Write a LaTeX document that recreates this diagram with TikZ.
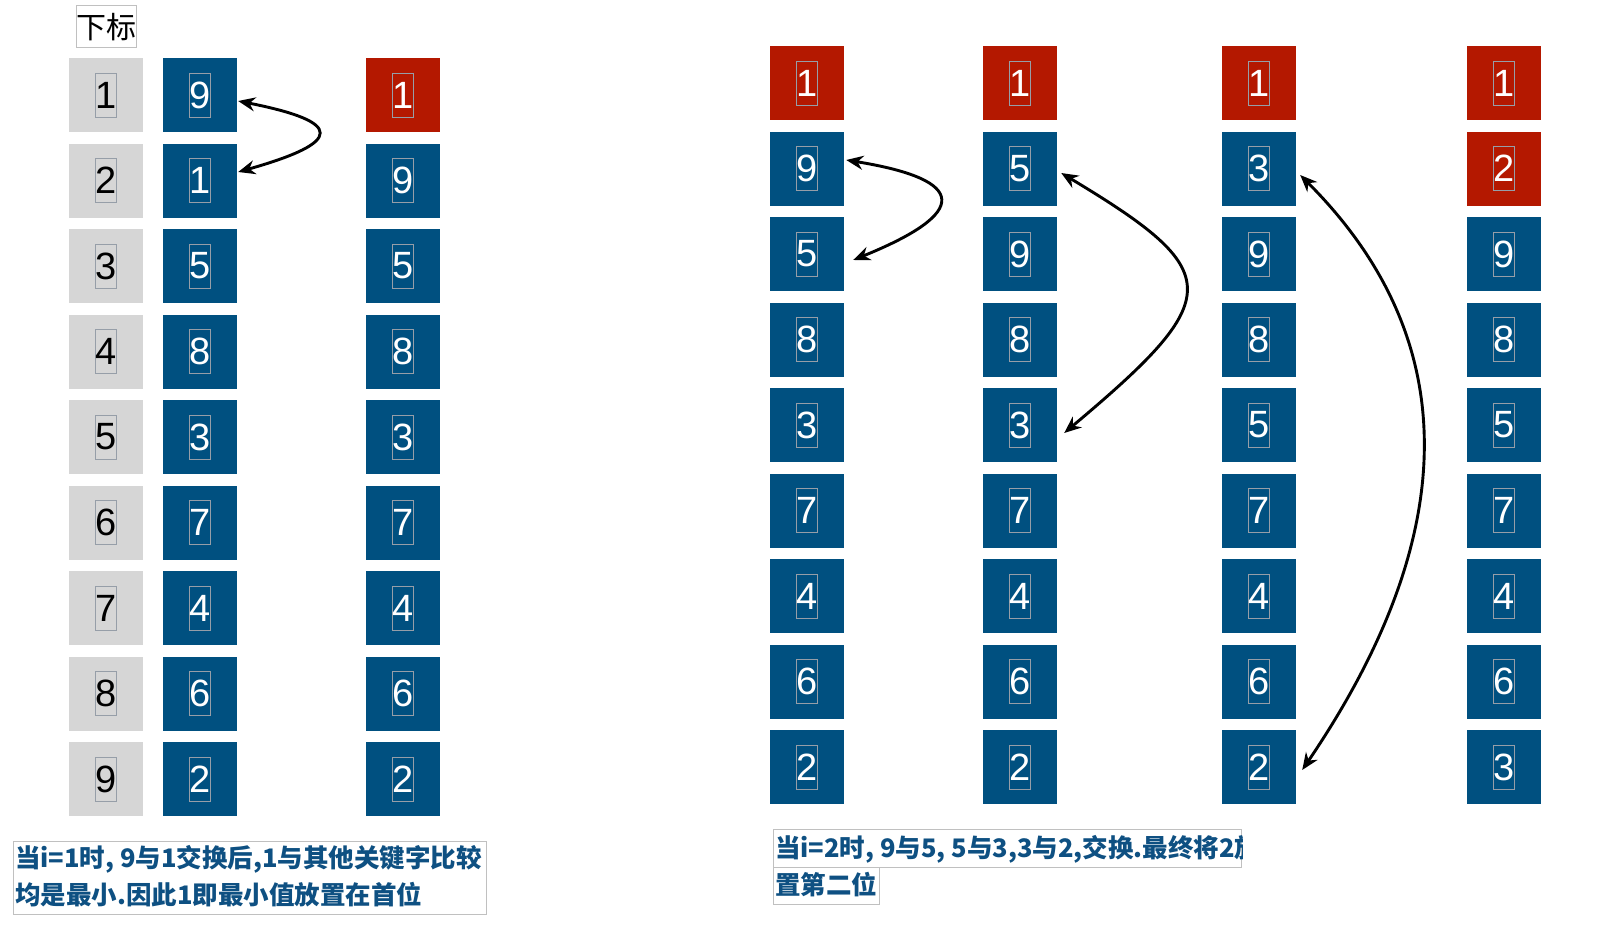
\documentclass[tikz,border=0pt]{standalone}
\usepackage{fontspec}
\setmainfont{Liberation Sans}
\newfontfamily\cjk{Noto Sans CJK SC}
\usetikzlibrary{arrows.meta}
\definecolor{cellB}{RGB}{0,80,128}
\definecolor{cellR}{RGB}{180,24,0}
\definecolor{cellG}{RGB}{214,214,214}
\definecolor{frameG}{RGB}{192,192,192}
\definecolor{innerF}{RGB}{150,158,168}
\definecolor{txtB}{RGB}{14,80,130}
\begin{document}
\begin{tikzpicture}[x=1pt,y=-1pt,
 cell/.style={minimum width=74pt,minimum height=74pt,inner sep=0pt,
   font=\fontsize{38}{38}\selectfont,
   path picture={\draw[innerF,line width=0.8pt] ([shift={(-10.5,-22)}]path picture bounding box.center) rectangle ([shift={(10.5,22)}]path picture bounding box.center);}},
 bc/.style={cell,fill=cellB,text=white},
 rc/.style={cell,fill=cellR,text=white},
 gc/.style={cell,fill=cellG,text=black},
 frm/.style={draw=frameG,line width=1pt,inner sep=0pt},
 swap/.style={line width=2.9pt,{Stealth[length=17pt,width=14pt]}-{Stealth[length=17pt,width=14pt]}},
 note/.style={anchor=base west,inner sep=0pt,text=txtB,font=\cjk\bfseries\fontsize{25.5}{25.5}\selectfont}
]
\path[fill=white] (0,0) rectangle (1622,934);
\useasboundingbox (0,0) rectangle (1622,934);

% header
\node[frm,minimum width=60pt,minimum height=42pt,font=\cjk\fontsize{30}{30}\selectfont] (hdr) at (106,27) {下标};

% left columns
\foreach \v [count=\i] in {1,2,3,4,5,6,7,8,9}
  \node[gc] (g\i) at (106,{95+85.5*(\i-1)}) {\v};
\foreach \v [count=\i] in {9,1,5,8,3,7,4,6,2}
  \node[bc] (a\i) at (200,{95+85.5*(\i-1)}) {\v};
\foreach \v/\s [count=\i] in {1/rc,9/bc,5/bc,8/bc,3/bc,7/bc,4/bc,6/bc,2/bc}
  \node[\s] (b\i) at (403,{95+85.5*(\i-1)}) {\v};

% right columns
\foreach \v/\s [count=\i] in {1/rc,9/bc,5/bc,8/bc,3/bc,7/bc,4/bc,6/bc,2/bc}
  \node[\s] (p\i) at (807,{83+85.5*(\i-1)}) {\v};
\foreach \v/\s [count=\i] in {1/rc,5/bc,9/bc,8/bc,3/bc,7/bc,4/bc,6/bc,2/bc}
  \node[\s] (q\i) at (1020,{83+85.5*(\i-1)}) {\v};
\foreach \v/\s [count=\i] in {1/rc,3/bc,9/bc,8/bc,5/bc,7/bc,4/bc,6/bc,2/bc}
  \node[\s] (r\i) at (1259,{83+85.5*(\i-1)}) {\v};
\foreach \v/\s [count=\i] in {1/rc,2/rc,9/bc,8/bc,5/bc,7/bc,4/bc,6/bc,3/bc}
  \node[\s] (s\i) at (1504,{83+85.5*(\i-1)}) {\v};

% swap arrows
\draw[swap] ([shift={(1,6)}]a1.east) .. controls +(106,21) and +(106,-30) .. ([shift={(1,-8.5)}]a2.east);
\draw[swap] ([shift={(2,-8.5)}]p2.east) .. controls +(123,20) and +(116,-47) .. ([shift={(9,6)}]p3.east);
\draw[swap] ([shift={(4,4.5)}]q2.east) .. controls +(165,99) and +(162,-136) .. ([shift={(7,8)}]q5.east);
\draw[swap] ([shift={(4,6.5)}]r2.east) .. controls +(163,163) and +(161,-237) .. ([shift={(6,3)}]r9.east);

% notes
\node[frm,anchor=north west,minimum width=473pt,minimum height=73pt] (boxL) at (13,841) {};
\node[note] (tL1) at ([shift={(2,26)}]boxL.north west) {当i=1时, 9与1交换后,1与其他关键字比较};
\node[note] (tL2) at ([shift={(2,63)}]boxL.north west) {均是最小.因此1即最小值放置在首位};

\node[frm,anchor=north west,minimum width=468pt,minimum height=38pt] (boxR1) at (773,829) {};
\node[frm,anchor=north west,minimum width=106pt,minimum height=37pt] (boxR2) at (773,867) {};
\begin{scope}
\clip (boxR1.north west) rectangle (boxR1.south east);
\node[note] (tR1) at ([shift={(2,28)}]boxR1.north west) {当i=2时, 9与5, 5与3,3与2,交换.最终将2放};
\end{scope}
\node[note] (tR2) at ([shift={(2,27)}]boxR2.north west) {置第二位};
\end{tikzpicture}
\end{document}
